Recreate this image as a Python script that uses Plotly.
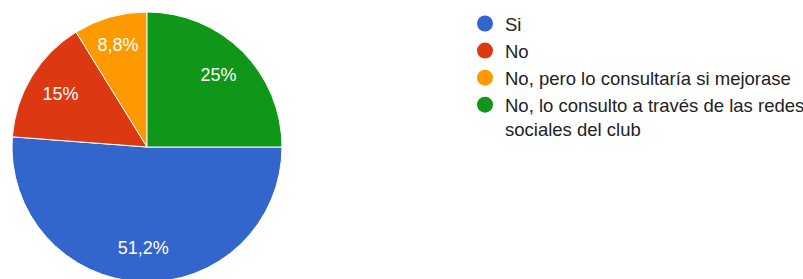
import plotly.graph_objects as go

labels = ["Si", "No", "No, pero lo consultaría si mejorase",
          "No, lo consulto a través de las redes<br>sociales del club"]
values = [51.2, 15, 8.8, 25]
colors = ["#3366cc", "#dc3912", "#ff9900", "#109618"]

# figure is a bit larger than the 803x279 window; the overflow is clipped
W, H = 830, 290
FONT = "Arial, 'Liberation Sans', sans-serif"
text = [(f"{v:g}".replace(".", ",") + "%") for v in values]
dom = dict(x=[12 / W, 282 / W], y=[1 - 282 / H, 1 - 12 / H])

fig = go.Figure()
fig.add_trace(go.Pie(
    labels=labels, values=values, sort=False, direction="clockwise",
    rotation=90, marker=dict(colors=colors, line=dict(color="white", width=1)),
    textinfo="none", showlegend=False, hoverinfo="label+percent", domain=dom,
))
# transparent ring overlay: carries the percentage labels at ~3/4 radius
fig.add_trace(go.Pie(
    labels=labels, values=values, sort=False, direction="clockwise",
    rotation=90, hole=0.5,
    marker=dict(colors=["rgba(0,0,0,0)"] * len(values), line=dict(width=0)),
    text=text, texttemplate="%{text}", textposition="inside",
    insidetextorientation="horizontal",
    textfont=dict(color="white", size=18, family=FONT),
    showlegend=False, hoverinfo="skip", domain=dom,
))
for lab, col in zip(labels, colors):
    fig.add_trace(go.Scatter(x=[None], y=[None], mode="markers", name=lab,
                             marker=dict(color=col, size=20, symbol="circle"),
                             showlegend=True))

fig.update_layout(
    width=W, height=H, margin=dict(l=0, r=0, t=0, b=0),
    paper_bgcolor="white", plot_bgcolor="white",
    xaxis=dict(visible=False), yaxis=dict(visible=False),
    font=dict(family=FONT, size=18.5, color="#222222"),
    legend=dict(x=465 / W, y=1 - 5 / H, xanchor="left", yanchor="top",
                valign="top", bgcolor="rgba(0,0,0,0)", tracegroupgap=0),
)
fig.write_html("out.html", config={"displayModeBar": False},
               post_script="document.body.style.margin='0px';"
                           "document.body.style.overflow='hidden';")
